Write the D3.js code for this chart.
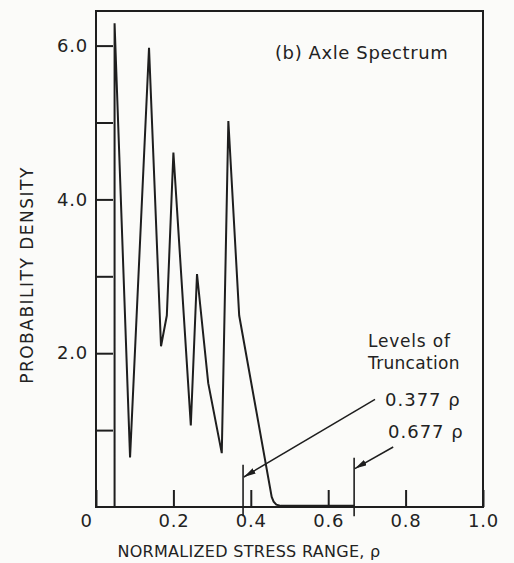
<!DOCTYPE html>
<html lang="en">
<head>
<meta charset="UTF-8" />
<title>Axle Spectrum</title>
<script src="https://cdn.jsdelivr.net/npm/d3@7"></script>
<style>
  body { margin: 0; background: #fbfbf9; }
  svg text { font-family: "DejaVu Sans", sans-serif; fill: #222; }
</style>
</head>
<body>
<div class="chart"></div>
<script>
  // normalized stress range (rho) vs probability density
  const rho = [0.048, 0.048, 0.088, 0.137, 0.168, 0.183, 0.200, 0.245, 0.261, 0.290, 0.325, 0.342, 0.370, 0.454, 0.459, 0.466, 0.478, 0.50, 0.667];
  const density = [0, 6.29, 0.645, 5.97, 2.09, 2.49, 4.61, 1.06, 3.03, 1.61, 0.70, 5.02, 2.49, 0.13, 0.07, 0.03, 0.015, 0.015, 0.015];

  const xTicks = [0, 0.2, 0.4, 0.6, 0.8, 1.0];
  const yTicks = [1, 2, 3, 4, 5, 6];
  const yLabelled = [2, 4, 6];

  // truncation markers and their arrows
  const truncLevels = [0.38, 0.667];
  const truncTops = [0.55, 0.64];
  const truncLabels = ["0.377 ρ", "0.677 ρ"];
  const arrowFrom = [[0.721, 1.40], [0.768, 0.78]];
  const arrowTo = [[0.382, 0.39], [0.669, 0.50]];

  const width = 514, height = 563;
  const ink = "#1e1e1e";

  const svg = d3.select(".chart").append("svg")
    .attr("width", width)
    .attr("height", height);

  const x = d3.scaleLinear().domain([0, 1]).range([96, 483]);
  const y = d3.scaleLinear().domain([0, 6.45]).range([507, 11]);

  svg.append("defs").append("marker")
    .attr("id", "head")
    .attr("viewBox", "0 0 12 6")
    .attr("refX", 12).attr("refY", 3)
    .attr("markerWidth", 12).attr("markerHeight", 6)
    .attr("markerUnits", "userSpaceOnUse")
    .attr("orient", "auto")
    .append("path")
    .attr("d", "M0,0 L12,3 L0,6 Z")
    .attr("fill", ink);

  // axes, ticks pointing inward
  const xAxis = svg.append("g")
    .attr("transform", `translate(0,${y(0)})`)
    .call(d3.axisBottom(x).tickValues(xTicks).tickSizeInner(-17).tickSizeOuter(0).tickPadding(7)
      .tickFormat(d => d === 0 ? "0" : d.toFixed(1)));
  const yAxis = svg.append("g")
    .attr("transform", `translate(${x(0)},0)`)
    .call(d3.axisLeft(y).tickValues(yTicks).tickSizeInner(-17).tickSizeOuter(0).tickPadding(8)
      .tickFormat(d => yLabelled.includes(d) ? d.toFixed(1) : ""));

  [xAxis, yAxis].forEach(g => {
    g.select(".domain").remove();
    g.selectAll("line").attr("stroke", ink).attr("stroke-width", 2);
    g.selectAll("text")
      .attr("font-family", "DejaVu Sans, sans-serif")
      .attr("font-size", 18)
      .attr("letter-spacing", 0.8)
      .attr("fill", "#222");
  });
  // the origin label sits a little left of the corner
  xAxis.selectAll(".tick text").filter(d => d === 0).attr("dx", -10);

  // frame
  svg.append("rect")
    .attr("x", x(0)).attr("y", y(6.45))
    .attr("width", x(1) - x(0)).attr("height", y(0) - y(6.45))
    .attr("fill", "none")
    .attr("stroke", ink)
    .attr("stroke-width", 2);

  // density curve
  const line = d3.line()
    .x((d, i) => x(rho[i]))
    .y(d => y(d));
  svg.append("path")
    .datum(density)
    .attr("d", line)
    .attr("fill", "none")
    .attr("stroke", ink)
    .attr("stroke-width", 2)
    .attr("stroke-linejoin", "miter");

  // truncation marks
  svg.selectAll(".trunc")
    .data(truncLevels)
    .enter()
    .append("line")
    .attr("class", "trunc")
    .attr("x1", d => x(d)).attr("x2", d => x(d))
    .attr("y1", (d, i) => y(truncTops[i]))
    .attr("y2", y(-0.12))
    .attr("stroke", ink)
    .attr("stroke-width", 1.6);

  svg.selectAll(".arrow")
    .data(arrowFrom)
    .enter()
    .append("line")
    .attr("class", "arrow")
    .attr("x1", d => x(d[0])).attr("y1", d => y(d[1]))
    .attr("x2", (d, i) => x(arrowTo[i][0])).attr("y2", (d, i) => y(arrowTo[i][1]))
    .attr("stroke", ink)
    .attr("stroke-width", 1.5)
    .attr("marker-end", "url(#head)");

  svg.selectAll(".trunc-label")
    .data(truncLabels)
    .enter()
    .append("text")
    .attr("class", "trunc-label")
    .attr("x", (d, i) => i === 0 ? 385 : 388)
    .attr("y", (d, i) => i === 0 ? 406 : 438)
    .attr("font-size", 18)
    .attr("letter-spacing", 1)
    .text(d => d);

  svg.append("text")
    .attr("x", 368).attr("y", 347)
    .attr("font-size", 17)
    .attr("letter-spacing", 0.8)
    .text("Levels of");
  svg.append("text")
    .attr("x", 368).attr("y", 369)
    .attr("font-size", 17)
    .attr("letter-spacing", 0.3)
    .text("Truncation");

  // titles
  svg.append("text")
    .attr("x", 275).attr("y", 59)
    .attr("font-size", 18)
    .attr("letter-spacing", 0.6)
    .text("(b) Axle Spectrum");

  svg.append("text")
    .attr("x", 249).attr("y", 557)
    .attr("text-anchor", "middle")
    .attr("font-size", 16)
    .attr("letter-spacing", 0.3)
    .text("NORMALIZED STRESS RANGE, ρ");

  svg.append("text")
    .attr("transform", "translate(33,275) rotate(-90)")
    .attr("text-anchor", "middle")
    .attr("font-size", 17)
    .attr("letter-spacing", 1.5)
    .text("PROBABILITY DENSITY");
</script>
</body>
</html>
